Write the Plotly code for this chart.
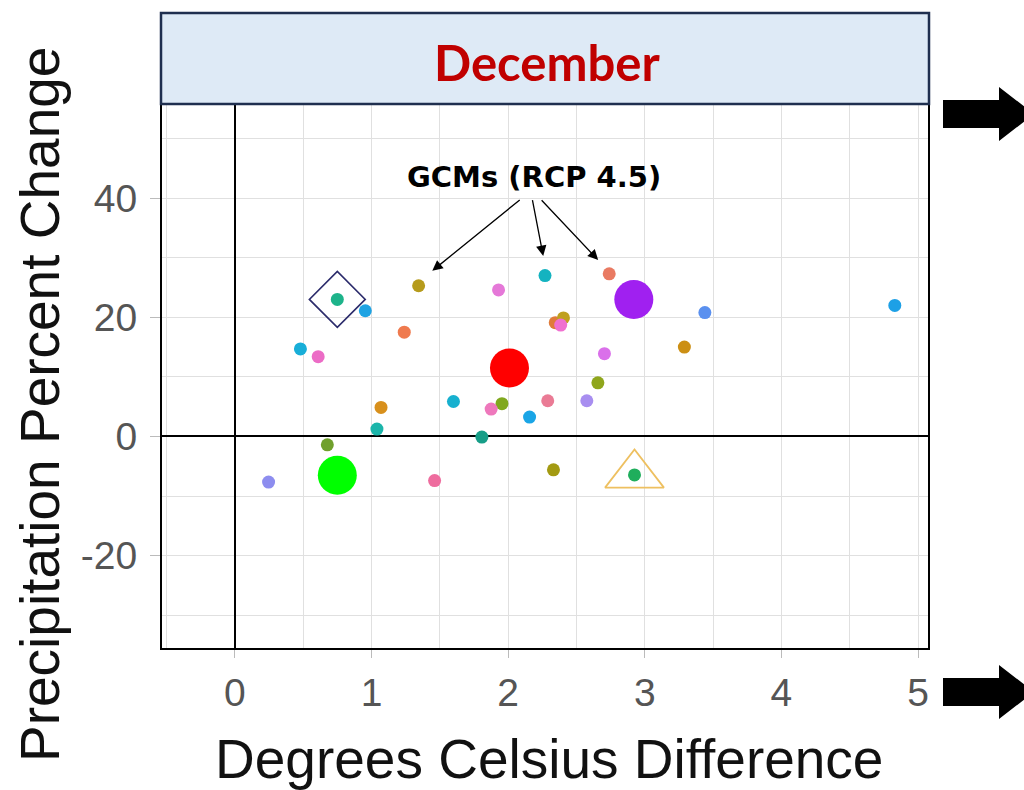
import plotly.graph_objects as go

# ---------------- data ----------------
gcm_temp = [0.75, 0.955, 1.345, 1.24, 0.48, 0.61, 1.93, 2.27, 2.74, 2.345, 2.405, 2.385,
            2.705, 3.29, 3.44, 4.83, 2.657, 2.576, 2.29, 2.157, 1.955, 1.876, 1.60,
            1.07, 1.04, 1.808, 0.677, 0.247, 1.462, 2.332, 2.925]
gcm_precip = [23.0, 21.1, 25.3, 17.5, 14.7, 13.4, 24.6, 27.0, 27.3, 19.1, 19.9, 18.7,
              13.9, 15.0, 20.8, 22.0, 9.0, 6.0, 6.0, 3.25, 5.5, 4.6, 5.87,
              4.87, 1.24, -0.1, -1.4, -7.65, -7.4, -5.6, -6.45]

# summary points: mean (red), warm/wet (purple), cool/dry (green)
summary_temp = [2.01, 2.92, 0.75]
summary_precip = [11.5, 23.0, -6.5]

# highlighted GCMs: diamond (cool/wet) and triangle (warm/dry)
diamond_temp, diamond_precip = [0.75], [23.0]
triangle_temp, triangle_precip = [2.925], [-6.45]

x_ticks = [0, 1, 2, 3, 4, 5]
y_ticks = [-20, 0, 20, 40]

# ---------------- styles ----------------
gcm_colors = ["#1db38a", "#1fa3e3", "#b69b1c", "#ef7a4e", "#18aed8", "#ec6cc6", "#e578d8",
              "#14b3c0", "#e97a62", "#e07b3a", "#c0a020", "#f070d0", "#da70ea", "#cc8f14",
              "#5a90ef", "#1da0e6", "#8fa61c", "#a88ef0", "#ea7b95", "#1aa5e6", "#80a81e",
              "#ee78bc", "#17b0cf", "#d8901c", "#1bb5aa", "#179e88", "#70a02c", "#8d8def",
              "#ee6c9e", "#a39a12", "#1fae5c"]
summary_colors = ["#ff0000", "#a020f0", "#00ff00"]

SANS = "Liberation Sans, Arial, sans-serif"

# plot-area geometry in pixels
L, R, T, B = 162, 928, 104, 648
W, H = 1024, 790


def px(x, y):
    return (x - L) / (R - L), (B - y) / (B - T)


fig = go.Figure()

fig.add_trace(go.Scatter(
    x=summary_temp, y=summary_precip, mode="markers",
    marker=dict(size=39, color=summary_colors, line=dict(width=0)),
    showlegend=False, hoverinfo="skip"))

fig.add_trace(go.Scatter(
    x=gcm_temp, y=gcm_precip, mode="markers",
    marker=dict(size=13, color=gcm_colors, line=dict(width=0)),
    showlegend=False))

fig.add_trace(go.Scatter(
    x=diamond_temp, y=diamond_precip, mode="markers",
    marker=dict(symbol="diamond-open", size=43, color="#2b2b6b", line=dict(width=1.6)),
    showlegend=False))

fig.add_trace(go.Scatter(
    x=triangle_temp, y=triangle_precip, mode="markers",
    marker=dict(symbol="triangle-up-open", size=51, color="#eec060", line=dict(width=1.8)),
    showlegend=False))

grid = "#e0e0e0"
tick_font = dict(family=SANS, size=39, color="#555555")

fig.update_xaxes(
    range=[-0.533, 5.073], tickvals=x_ticks, ticktext=[str(v) for v in x_ticks],
    showgrid=True, gridcolor=grid, gridwidth=1,
    minor=dict(dtick=0.5, showgrid=True, gridcolor=grid, gridwidth=1),
    zeroline=True, zerolinecolor="black", zerolinewidth=2,
    showline=True, linecolor="black", linewidth=2, mirror=True,
    ticks="outside", ticklen=8, tickcolor="#bbbbbb", tickwidth=1,
    tickfont=tick_font, ticklabelstandoff=1,
)
fig.update_yaxes(
    range=[-35.5, 55.8], tickvals=y_ticks, ticktext=[str(v) for v in y_ticks],
    showgrid=True, gridcolor=grid, gridwidth=1,
    minor=dict(dtick=10, showgrid=True, gridcolor=grid, gridwidth=1),
    zeroline=True, zerolinecolor="black", zerolinewidth=2,
    showline=True, linecolor="black", linewidth=2, mirror=True,
    ticks="outside", ticklen=10, tickcolor="#bbbbbb", tickwidth=1,
    tickfont=tick_font, ticklabelstandoff=5,
)

shapes = []
# header strip
hx0, hy0 = px(161, 104)
hx1, hy1 = px(929, 13)
shapes.append(dict(type="rect", xref="paper", yref="paper", x0=hx0, y0=hy0, x1=hx1, y1=hy1,
                   fillcolor="#deeaf6", line=dict(color="#1f2f4f", width=2.5), layer="above"))


def block_arrow(cy):
    pts = [(943, cy - 14), (999, cy - 14), (999, cy - 27), (1034, cy), (999, cy + 27),
           (999, cy + 14), (943, cy + 14)]
    p = " ".join(("M" if i == 0 else "L") + f"{px(a, b)[0]:.5f},{px(a, b)[1]:.5f}"
                 for i, (a, b) in enumerate(pts)) + " Z"
    return dict(type="path", xref="paper", yref="paper", path=p,
                fillcolor="black", line=dict(color="black", width=0))


shapes.append(block_arrow(114))
shapes.append(block_arrow(692))

annotations = []
tx, ty = px(547, 62)
annotations.append(dict(text="<b>December</b>", xref="paper", yref="paper", x=tx, y=ty,
                        xanchor="center", yanchor="middle", showarrow=False,
                        font=dict(family="Lato, sans-serif", size=49, color="#c00000")))

# GCM label and arrows
annotations.append(dict(text="<b>GCMs (RCP 4.5)</b>", x=2.19, y=43.6, xref="x", yref="y",
                        showarrow=False, xanchor="center", yanchor="middle",
                        font=dict(family="DejaVu Sans, sans-serif", size=29, color="black")))
arrow_tails = [(2.096, 39.9), (2.176, 39.9), (2.235, 39.9)]
arrow_heads = [(1.445, 27.8), (2.257, 30.3), (2.659, 29.6)]
for (ax_, ay_), (hx, hy) in zip(arrow_tails, arrow_heads):
    annotations.append(dict(x=hx, y=hy, ax=ax_, ay=ay_, xref="x", yref="y", axref="x", ayref="y",
                            text="", showarrow=True, arrowhead=2, arrowsize=1.6,
                            arrowwidth=1.3, arrowcolor="black"))

# axis titles
yt = px(40, 405)
annotations.append(dict(text="Precipitation Percent Change", xref="paper", yref="paper",
                        x=yt[0], y=yt[1], textangle=-90, showarrow=False,
                        xanchor="center", yanchor="middle",
                        font=dict(family=SANS, size=55, color="#111111")))
xt = px(549, 759)
annotations.append(dict(text="Degrees Celsius Difference", xref="paper", yref="paper",
                        x=xt[0], y=xt[1], showarrow=False,
                        xanchor="center", yanchor="middle",
                        font=dict(family=SANS, size=55, color="#111111")))

fig.update_layout(
    width=W, height=H,
    margin=dict(l=L, r=W - R, t=T, b=H - B),
    paper_bgcolor="white", plot_bgcolor="white",
    shapes=shapes, annotations=annotations,
    showlegend=False,
)

fig.write_html("out.html")
